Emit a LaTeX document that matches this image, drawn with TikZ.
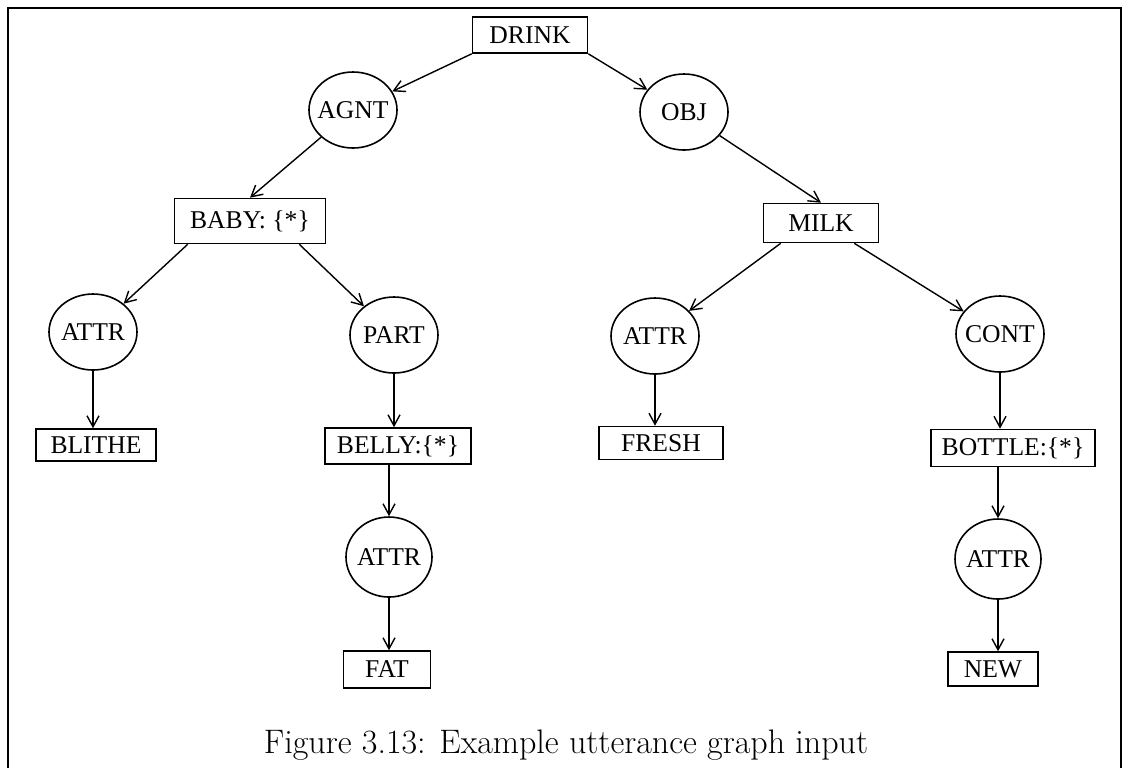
\documentclass[tikz,border=0pt]{standalone}
\usepackage{fontspec}
\newfontfamily\tnr{Liberation Serif}
\usetikzlibrary{shapes.geometric,arrows.meta,calc}
\newcommand\zw[1]{\makebox[0pt]{#1}}
\begin{document}
\begin{tikzpicture}[x=0.5pt,y=-0.5pt,
  lbl/.style={font=\tnr\fontsize{12.8}{14}\selectfont},
  box/.style={draw,line width=0.8pt,inner sep=0pt,lbl},
  rel/.style={draw,ellipse,line width=0.8pt,inner sep=0pt,minimum width=44pt,minimum height=38pt,lbl},
  relb/.style={rel,minimum width=43pt,minimum height=40pt},
  arr/.style={line width=0.7pt,-{Straight Barb[length=5.5pt,width=6pt]}}]
\useasboundingbox (0,0) rectangle (1128,768);
\draw[line width=0.9pt] (8,768) -- (8,8) -- (1121,8) -- (1121,768);

\node[box,minimum width=57.5pt,minimum height=18pt] (drink) at (530,35) {DRINK};
\node[rel] (agnt) at (353,110) {\zw{AGNT}};
\node[rel] (obj) at (684,112) {\zw{OBJ}};
\node[box,minimum width=75.5pt,minimum height=22.5pt] (baby) at (250,221) {BABY: \{*\}};
\node[box,minimum width=57.5pt,minimum height=19.5pt] (milk) at (821,223) {MILK};
\node[rel] (attrA) at (93,332) {\zw{ATTR}};
\node[rel] (part) at (394,335) {\zw{PART}};
\node[rel] (attrB) at (655,336) {\zw{ATTR}};
\node[rel] (cont) at (1000,334) {\zw{CONT}};
\node[box,minimum width=60pt,minimum height=16pt] (blithe) at (96,445) {BLITHE};
\node[box,minimum width=73pt,minimum height=18pt] (belly) at (398,446) {BELLY:\{*\}};
\node[box,minimum width=62pt,minimum height=16.5pt] (fresh) at (661,443) {FRESH\hspace{9pt}};
\node[box,minimum width=82pt,minimum height=18.5pt] (bottle) at (1013,448) {BOTTLE:\{*\}};
\node[relb] (attrC) at (389,557) {\zw{ATTR}};
\node[relb] (attrD) at (998,559) {\zw{ATTR}};
\node[box,minimum width=43.5pt,minimum height=18.5pt] (fat) at (387,669.5) {FAT};
\node[box,minimum width=45pt,minimum height=17pt] (new) at (993,669) {NEW};
\node[font=\fontsize{17}{20}\selectfont,anchor=base,inner sep=0pt] (cap) at (566,753) {Figure 3.13: Example utterance graph input};

\draw[arr] (drink.south west) -- (agnt);
\draw[arr] (drink.south east) -- (obj);
\draw[arr] (agnt) -- (baby.north);
\draw[arr] (obj) -- (milk.north);
\draw[arr] ($(baby.south west)+(14,0)$) -- (attrA);
\draw[arr] ($(baby.south east)+(-27,0)$) -- (part);
\draw[arr] ($(milk.south west)+(18,0)$) -- (attrB);
\draw[arr] ($(milk.south east)+(-25,0)$) -- (cont);
\draw[arr] (attrA) -- (attrA |- blithe.north);
\draw[arr] (part) -- (part |- belly.north);
\draw[arr] (belly.south -| attrC) -- (attrC);
\draw[arr] (attrC) -- (attrC |- fat.north);
\draw[arr] (attrB) -- (attrB |- fresh.north);
\draw[arr] (cont) -- (cont |- bottle.north);
\draw[arr] (bottle.south -| attrD) -- (attrD);
\draw[arr] (attrD) -- (attrD |- new.north);
\end{tikzpicture}
\end{document}
